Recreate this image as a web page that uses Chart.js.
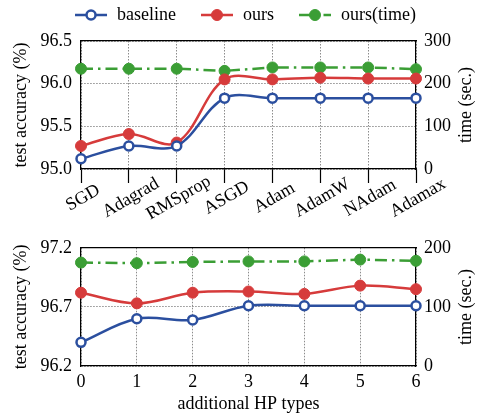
<!DOCTYPE html>
<html>
<head>
<meta charset="utf-8">
<script src="https://cdn.jsdelivr.net/npm/chart.js@4.4.1/dist/chart.umd.min.js"></script>
<style>
  body { margin: 0; background: #fff; width: 477px; height: 415px; overflow: hidden; }
  .box { position: absolute; left: 0; width: 477px; }
  #box_top { top: 0; height: 230px; }
  #box_bottom { top: 228px; height: 187px; }
</style>
</head>
<body>
<div class="box" id="box_top"><canvas id="grafico_otimizadores"></canvas></div>
<div class="box" id="box_bottom"><canvas id="grafico_hp"></canvas></div>
<script>
// dados do grafico de cima (otimizadores)
const otimizadores = ["SGD", "Adagrad", "RMSprop", "ASGD", "Adam", "AdamW", "NAdam", "Adamax"];
const baseline_top = [95.12, 95.27, 95.27, 95.83, 95.83, 95.83, 95.83, 95.83];
const ours_top = [95.27, 95.41, 95.31, 96.05, 96.05, 96.07, 96.06, 96.06];
const tempo_top = [235, 235, 235, 230, 238, 238, 238, 234];
const acc_ticks_top = [95.0, 95.5, 96.0, 96.5];
const tempo_ticks_top = [0, 100, 200, 300];

// dados do grafico de baixo (tipos de HP)
const hp_tipos = ["0", "1", "2", "3", "4", "5", "6"];
const baseline_bottom = [96.40, 96.60, 96.59, 96.71, 96.71, 96.71, 96.71];
const ours_bottom = [96.82, 96.73, 96.82, 96.83, 96.81, 96.88, 96.85];
const tempo_bottom = [175, 174, 176, 177, 177, 180, 178];
const acc_ticks_bottom = [96.2, 96.7, 97.2];
const tempo_ticks_bottom = [0, 100, 200];

const AZUL = "#2b4f9f";
const VERMELHO = "#d63b3b";
const VERDE = "#3b9e35";
const FONTE = '"Liberation Serif", "Times New Roman", serif';

Chart.defaults.font.family = FONTE;
Chart.defaults.font.size = 18;
Chart.defaults.color = "#000";

function series(acc_base, acc_ours, tempo) {
    return [
        {
            label: "baseline",
            data: acc_base,
            yAxisID: "y",
            borderColor: AZUL,
            borderWidth: 2.5,
            pointRadius: 4.5,
            pointBackgroundColor: "#fff",
            pointBorderColor: AZUL,
            pointBorderWidth: 2.5,
            tension: 0.35,
            clip: false,
        },
        {
            label: "ours",
            data: acc_ours,
            yAxisID: "y",
            borderColor: VERMELHO,
            borderWidth: 2.5,
            pointRadius: 5.5,
            pointBackgroundColor: VERMELHO,
            pointBorderColor: VERMELHO,
            pointBorderWidth: 1,
            tension: 0.35,
            clip: false,
        },
        {
            label: "ours(time)",
            data: tempo,
            yAxisID: "y2",
            borderColor: VERDE,
            borderWidth: 2.5,
            borderDash: [12, 5, 2.5, 5],
            pointRadius: 5.5,
            pointBackgroundColor: VERDE,
            pointBorderColor: VERDE,
            pointBorderWidth: 1,
            tension: 0,
            clip: false,
        },
    ];
}

// legenda com linha + marcador
const legendaLinha = {
    id: "legendaLinha",
    afterDraw(chart) {
        const ctx = chart.ctx;
        const itens = chart.data.datasets;
        const lineLen = 32, gapText = 10, gapItem = 25, y = 15;
        ctx.save();
        ctx.font = "18px " + FONTE;
        const larguras = itens.map((d) => lineLen + gapText + ctx.measureText(d.label).width);
        const total = larguras.reduce((a, b) => a + b, 0) + gapItem * (itens.length - 1);
        let x = (chart.chartArea.left + chart.chartArea.right) / 2 - total / 2 - 3;
        itens.forEach((d, i) => {
            ctx.strokeStyle = d.borderColor;
            ctx.lineWidth = d.borderWidth;
            ctx.setLineDash(d.borderDash || []);
            ctx.beginPath();
            ctx.moveTo(x, y);
            ctx.lineTo(x + lineLen, y);
            ctx.stroke();
            ctx.setLineDash([]);
            ctx.beginPath();
            ctx.arc(x + lineLen / 2, y, d.pointRadius, 0, Math.PI * 2);
            ctx.fillStyle = d.pointBackgroundColor;
            ctx.fill();
            ctx.lineWidth = d.pointBorderWidth;
            ctx.strokeStyle = d.pointBorderColor;
            ctx.stroke();
            ctx.fillStyle = "#000";
            ctx.textAlign = "left";
            ctx.textBaseline = "middle";
            ctx.fillText(d.label, x + lineLen + gapText, y);
            x += larguras[i] + gapItem;
        });
        ctx.restore();
    },
};

// rotulos do eixo x girados e centrados no tick
const rotulosGirados = {
    id: "rotulosGirados",
    afterDraw(chart) {
        const s = chart.scales.x;
        const ctx = chart.ctx;
        ctx.save();
        ctx.font = "18px " + FONTE;
        ctx.fillStyle = "#000";
        ctx.textAlign = "center";
        ctx.textBaseline = "middle";
        s.ticks.forEach((t, i) => {
            const x = s.getPixelForTick(i);
            ctx.save();
            ctx.translate(x + 2, s.top + 29);
            ctx.rotate(-Math.PI / 6);
            ctx.fillText(s.getLabelForValue(t.value), 0, 0);
            ctx.restore();
        });
        ctx.restore();
    },
};

// titulo do eixo da direita lido de baixo para cima
const tituloDireita = {
    id: "tituloDireita",
    afterDraw(chart) {
        const s = chart.scales.y2;
        const ctx = chart.ctx;
        ctx.save();
        ctx.font = "18px " + FONTE;
        ctx.fillStyle = "#000";
        ctx.textAlign = "center";
        ctx.textBaseline = "middle";
        ctx.translate(s.right - 10.5, (s.top + s.bottom) / 2);
        ctx.rotate(-Math.PI / 2);
        ctx.fillText("time (sec.)", 0, 0);
        ctx.restore();
    },
};

const grade = { color: "#6f6f6f", lineWidth: 0.8 };

function escalas(accTicks, tempoTicks, xHeight, xTicks, tickLen) {
    return {
        x: {
            type: "category",
            offset: false,
            grid: {
                ...grade,
                drawTicks: tickLen > 0,
                tickLength: tickLen,
                tickColor: "#000",
                tickWidth: 1.2,
                tickBorderDash: [],
            },
            border: { display: true, color: "#000", width: 1.2, dash: [1.5, 1.5] },
            ticks: xTicks,
            title: xTicks.title,
            afterFit: (s) => { s.height = xHeight; },
        },
        xTop: {
            type: "category",
            position: "top",
            grid: { display: false },
            ticks: { display: false },
            border: { display: true, color: "#000", width: 1.2 },
            afterFit: (s) => { s.height = 0; },
        },
        y: {
            position: "left",
            min: accTicks[0],
            max: accTicks[accTicks.length - 1],
            afterBuildTicks: (s) => { s.ticks = accTicks.map((v) => ({ value: v })); },
            grid: { ...grade, drawTicks: false },
            border: { display: true, color: "#000", width: 1.2, dash: [1.5, 1.5] },
            ticks: { padding: 9, callback: (v) => Number(v).toFixed(1) },
            title: { display: true, text: "test accuracy (%)", padding: { top: 10, bottom: 0 } },
            afterFit: (s) => { s.width = 81; },
        },
        y2: {
            position: "right",
            min: tempoTicks[0],
            max: tempoTicks[tempoTicks.length - 1],
            afterBuildTicks: (s) => { s.ticks = tempoTicks.map((v) => ({ value: v })); },
            grid: { display: false, drawTicks: false },
            border: { display: true, color: "#000", width: 1.2 },
            ticks: { padding: 8 },
            afterFit: (s) => { s.width = 61; },
        },
    };
}

new Chart("grafico_otimizadores", {
    type: "line",
    data: { labels: otimizadores, datasets: series(baseline_top, ours_top, tempo_top) },
    options: {
        responsive: true,
        maintainAspectRatio: false,
        animation: false,
        layout: { padding: { top: 41, left: 0, right: 0, bottom: 0 } },
        plugins: { legend: { display: false }, tooltip: { enabled: false } },
        scales: escalas(acc_ticks_top, tempo_ticks_top, 61, { display: false }, 14),
    },
    plugins: [legendaLinha, rotulosGirados, tituloDireita],
});

new Chart("grafico_hp", {
    type: "line",
    data: { labels: hp_tipos, datasets: series(baseline_bottom, ours_bottom, tempo_bottom) },
    options: {
        responsive: true,
        maintainAspectRatio: false,
        animation: false,
        layout: { padding: { top: 11, left: 0, right: 0, bottom: 0 } },
        plugins: { legend: { display: false }, tooltip: { enabled: false } },
        scales: escalas(acc_ticks_bottom, tempo_ticks_bottom, 49, {
            padding: 5,
            maxRotation: 0,
            title: { display: true, text: "additional HP types", padding: { top: 0, bottom: 0 } },
        }, 0),
    },
    plugins: [tituloDireita],
});
</script>
</body>
</html>
